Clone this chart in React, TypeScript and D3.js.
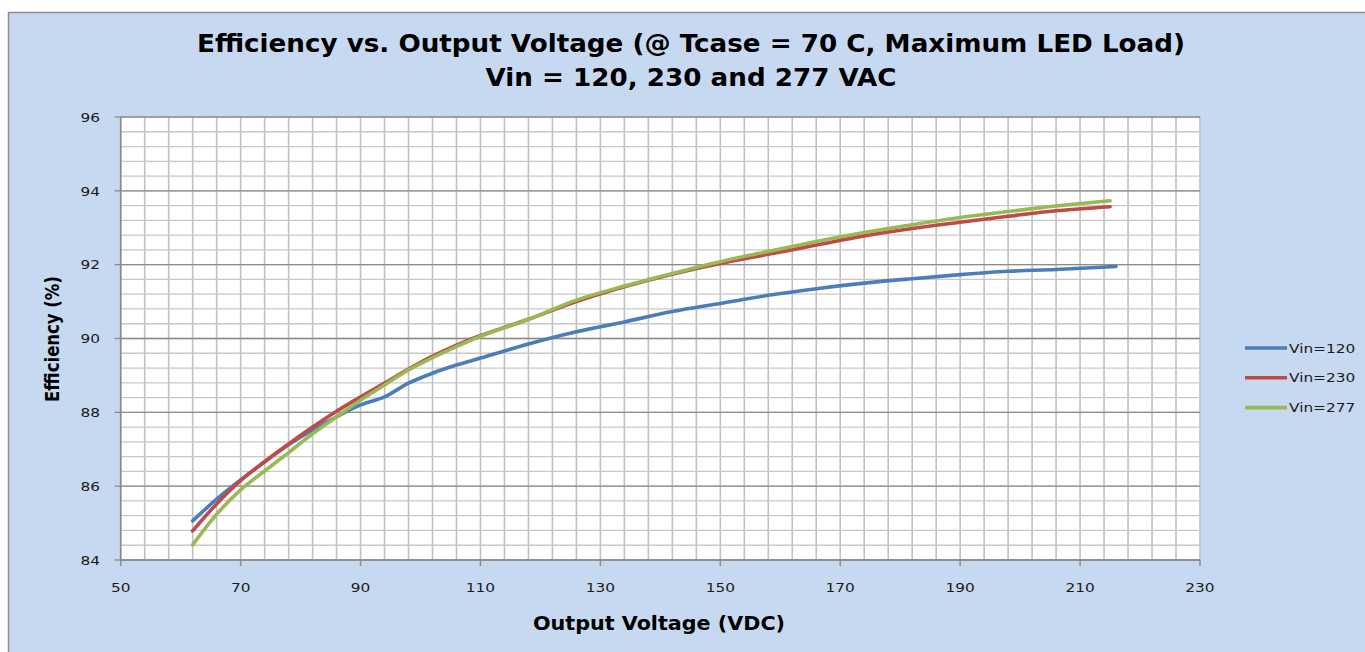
import React, { useMemo } from "react";
import * as d3 from "d3";

// Output voltage (VDC) vs efficiency (%)
const vin120V = [62, 66, 70, 74, 78, 82, 86, 90, 94, 98, 102, 106, 110, 118, 126, 134, 142, 150, 158, 166, 174, 182, 190, 198, 206, 216];
const vin120E = [85.06, 85.65, 86.17, 86.66, 87.12, 87.52, 87.88, 88.2, 88.42, 88.79, 89.06, 89.28, 89.47, 89.85, 90.18, 90.45, 90.73, 90.95, 91.17, 91.35, 91.5, 91.62, 91.73, 91.82, 91.87, 91.95];

const vin230V = [62, 66, 70, 74, 78, 82, 86, 90, 94, 98, 102, 106, 110, 118, 126, 134, 142, 150, 158, 166, 174, 182, 190, 198, 206, 215];
const vin230E = [84.79, 85.52, 86.15, 86.66, 87.14, 87.6, 88.03, 88.42, 88.79, 89.17, 89.52, 89.82, 90.08, 90.52, 91.0, 91.4, 91.74, 92.03, 92.28, 92.53, 92.78, 92.98, 93.15, 93.31, 93.46, 93.57];

const vin277V = [62, 66, 70, 74, 78, 82, 86, 90, 94, 98, 102, 106, 110, 118, 126, 134, 142, 150, 158, 166, 174, 182, 190, 198, 206, 215];
const vin277E = [84.41, 85.24, 85.9, 86.41, 86.91, 87.42, 87.88, 88.33, 88.74, 89.15, 89.48, 89.78, 90.06, 90.52, 91.04, 91.42, 91.76, 92.08, 92.36, 92.63, 92.87, 93.08, 93.28, 93.44, 93.59, 93.73];

const seriesNames = ["Vin=120", "Vin=230", "Vin=277"];
const seriesColors = ["#4A7EBB", "#BE4B48", "#98B954"];

const xTickLabels = [50, 70, 90, 110, 130, 150, 170, 190, 210, 230];
const yTickLabels = [84, 86, 88, 90, 92, 94, 96];

const FONT = "'DejaVu Sans', Verdana, sans-serif";
const SX = 1.18; // the reference is stretched horizontally

export default function App() {
  const left = 120.7;
  const right = 1200;
  const top = 117;
  const bottom = 560;

  const x = d3.scaleLinear().domain([50, 230]).range([left, right]);
  const y = d3.scaleLinear().domain([84, 96]).range([bottom, top]);

  const series = useMemo(
    () =>
      [
        [vin120V, vin120E],
        [vin230V, vin230E],
        [vin277V, vin277E],
      ].map(([vs, es], i) => ({
        name: seriesNames[i],
        color: seriesColors[i],
        points: vs.map((v, j) => [v, es[j]] as [number, number]),
      })),
    []
  );

  const line = d3
    .line<[number, number]>()
    .x((d) => x(d[0]))
    .y((d) => y(d[1]))
    .curve(d3.curveCatmullRom.alpha(0.5));

  const xMinor = d3.range(50, 230.01, 4);
  const yMinor = d3.range(84, 96.01, 0.4);

  return (
    <svg
      width={1365}
      height={652}
      style={{ position: "absolute", left: 0, top: 0, fontFamily: FONT }}
    >
      <rect x={0} y={0} width={1365} height={652} fill="#ffffff" />
      <rect x={8.5} y={12.5} width={1380} height={660} fill="#C6D9F1" stroke="#8E8E8E" strokeWidth={1.5} />

      {/* titles */}
      <text x={691} y={52} textAnchor="middle" fontSize={25} fontWeight="bold" fill="#000"
        textLength={988} lengthAdjust="spacingAndGlyphs">
        Efficiency vs. Output Voltage (@ Tcase = 70 C, Maximum LED Load)
      </text>
      <text x={691} y={86} textAnchor="middle" fontSize={25} fontWeight="bold" fill="#000"
        textLength={411} lengthAdjust="spacingAndGlyphs">
        Vin = 120, 230 and 277 VAC
      </text>

      {/* plot area */}
      <rect x={left} y={top} width={right - left} height={bottom - top} fill="#ffffff" />

      {xMinor.map((v) => (
        <line key={"vx" + v} x1={x(v)} x2={x(v)} y1={top} y2={bottom} stroke="#C0C0C0" strokeWidth={1.6} />
      ))}
      {yMinor.map((v) => (
        <line key={"hy" + v} x1={left} x2={right} y1={y(v)} y2={y(v)} stroke="#C8C8C8" strokeWidth={1.3} />
      ))}
      {yTickLabels.map((v) => (
        <line key={"hm" + v} x1={left} x2={right} y1={y(v)} y2={y(v)} stroke="#8C8C8C" strokeWidth={1.3} />
      ))}

      {/* axes */}
      <line x1={left} x2={left} y1={top} y2={bottom} stroke="#8C8C8C" strokeWidth={1.6} />
      <line x1={left} x2={right} y1={bottom} y2={bottom} stroke="#8C8C8C" strokeWidth={1.3} />
      {yTickLabels.map((v) => (
        <g key={"yt" + v}>
          <line x1={left - 6} x2={left} y1={y(v)} y2={y(v)} stroke="#8C8C8C" strokeWidth={1.3} />
          <text transform={`translate(100,${y(v)}) scale(${SX},1)`} textAnchor="end" dy="0.36em"
            fontSize={13} fill="#1a1a1a">
            {v}
          </text>
        </g>
      ))}
      {xTickLabels.map((v) => (
        <g key={"xt" + v}>
          <line x1={x(v)} x2={x(v)} y1={bottom} y2={bottom + 6} stroke="#8C8C8C" strokeWidth={1.5} />
          <text transform={`translate(${x(v)},592) scale(${SX},1)`} textAnchor="middle"
            fontSize={13} fill="#1a1a1a">
            {v}
          </text>
        </g>
      ))}

      {/* series */}
      {series.map((s) => (
        <path key={s.name} d={line(s.points) || ""} fill="none" stroke={s.color}
          strokeWidth={3.6} strokeLinecap="round" strokeLinejoin="round" />
      ))}

      {/* axis titles */}
      <text x={659} y={630} textAnchor="middle" fontSize={19} fontWeight="bold" fill="#000"
        textLength={252} lengthAdjust="spacingAndGlyphs">
        Output Voltage (VDC)
      </text>
      <text transform={`translate(59,339) scale(${SX},1) rotate(-90)`} textAnchor="middle"
        fontSize={16.5} fontWeight="bold" fill="#000">
        Efficiency (%)
      </text>

      {/* legend */}
      {series.map((s, i) => (
        <g key={"lg" + s.name} transform={`translate(1245,${348 + i * 29.8})`}>
          <line x1={0} x2={42} y1={0} y2={0} stroke={s.color} strokeWidth={3.6} />
          <text transform={`translate(44,0) scale(${SX},1)`} dy="0.36em" fontSize={13} fill="#1a1a1a">
            {s.name}
          </text>
        </g>
      ))}
    </svg>
  );
}
